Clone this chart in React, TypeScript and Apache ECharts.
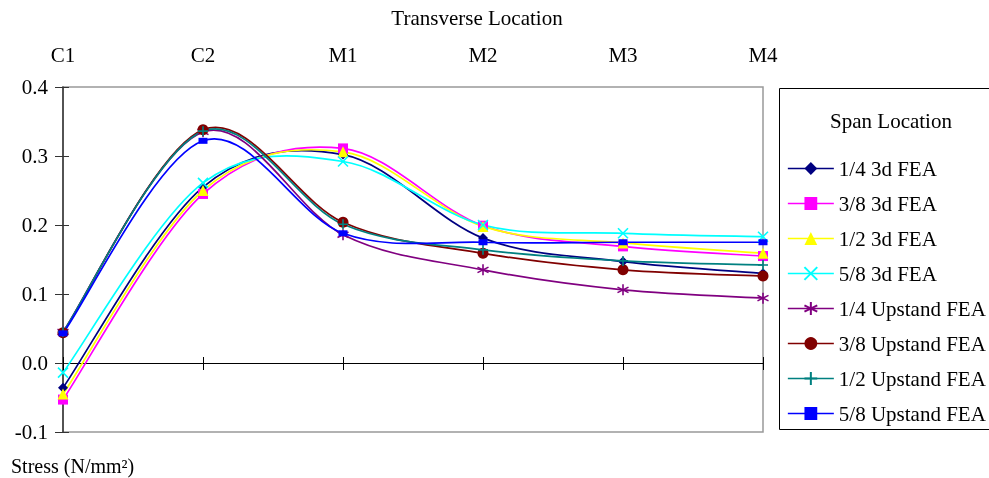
import React, { useEffect, useRef } from "react";
import * as echarts from "echarts";

const categories = ["C1", "C2", "M1", "M2", "M3", "M4"];
const yTicks = [-0.1, 0.0, 0.1, 0.2, 0.3, 0.4];

const quarter3d = [-0.036, 0.255, 0.302, 0.181, 0.147, 0.13];
const threeEighth3d = [-0.053, 0.245, 0.311, 0.199, 0.169, 0.155];
const half3d = [-0.045, 0.25, 0.306, 0.198, 0.174, 0.159];
const fiveEighth3d = [-0.014, 0.261, 0.292, 0.2, 0.188, 0.183];
const quarterUp = [0.045, 0.335, 0.186, 0.135, 0.106, 0.094];
const threeEighthUp = [0.044, 0.338, 0.204, 0.159, 0.135, 0.126];
const halfUp = [0.045, 0.336, 0.201, 0.164, 0.148, 0.142];
const fiveEighthUp = [0.043, 0.322, 0.188, 0.175, 0.175, 0.175];

const seriesNames = [
  "1/4 3d FEA",
  "3/8 3d FEA",
  "1/2 3d FEA",
  "5/8 3d FEA",
  "1/4 Upstand FEA",
  "3/8 Upstand FEA",
  "1/2 Upstand FEA",
  "5/8 Upstand FEA",
];
const seriesData = [quarter3d, threeEighth3d, half3d, fiveEighth3d, quarterUp, threeEighthUp, halfUp, fiveEighthUp];
const seriesColors = ["#000080", "#FF00FF", "#FFFF00", "#00FFFF", "#800080", "#800000", "#008080", "#0000FF"];

const FONT = '"Liberation Serif", "Times New Roman", serif';
const FS = 21;
const LW = 1.7;

const X_PATH = "path://M0,0L10,10M0,10L10,0";
const STAR_PATH = "path://M5,0L5,10M0.7,2.5L9.3,7.5M0.7,7.5L9.3,2.5";
const PLUS_PATH = "path://M5,0L5,10M0,5L10,5";

const symbols: any[] = [
  { symbol: "diamond", size: 10, stroke: false },
  { symbol: "rect", size: 10, stroke: false },
  { symbol: "triangle", size: 11, stroke: false },
  { symbol: X_PATH, size: 10, stroke: true },
  { symbol: STAR_PATH, size: 11, stroke: true },
  { symbol: "circle", size: 11, stroke: false },
  { symbol: PLUS_PATH, size: 10, stroke: true },
  { symbol: "rect", size: [9, 6], stroke: false },
];

function smoothPath(pts: number[][]) {
  let d = `M${pts[0][0]},${pts[0][1]}`;
  for (let k = 0; k < pts.length - 1; k++) {
    const p0 = pts[k - 1] || pts[k];
    const p1 = pts[k];
    const p2 = pts[k + 1];
    const p3 = pts[k + 2] || pts[k + 1];
    const c1x = p1[0] + (p2[0] - p0[0]) / 6;
    const c1y = p1[1] + (p2[1] - p0[1]) / 6;
    const c2x = p2[0] - (p3[0] - p1[0]) / 6;
    const c2y = p2[1] - (p3[1] - p1[1]) / 6;
    d += ` C${c1x},${c1y} ${c2x},${c2y} ${p2[0]},${p2[1]}`;
  }
  return d;
}

export default function App() {
  const ref = useRef<HTMLDivElement>(null);
  useEffect(() => {
    if (!ref.current) return;
    const chart = echarts.init(ref.current, undefined, { renderer: "svg" });

    const lineSeries = seriesNames.map((_, i) => ({
      type: "custom",
      coordinateSystem: "cartesian2d",
      xAxisIndex: 0,
      yAxisIndex: 0,
      data: [[0, seriesData[i][0]]],
      encode: { x: 0, y: 1 },
      silent: true,
      z: 2 + i * 0.01,
      renderItem: (params: any, api: any) => {
        const pts = seriesData[i].map((v, k) => api.coord([k, v]));
        return {
          type: "path",
          shape: { pathData: smoothPath(pts) },
          style: { fill: "none", stroke: seriesColors[i], lineWidth: LW },
        };
      },
    }));

    const markerSeries = seriesNames.map((name, i) => ({
      name,
      type: "line",
      xAxisIndex: 0,
      yAxisIndex: 0,
      data: seriesData[i],
      symbol: symbols[i].symbol,
      symbolSize: symbols[i].size,
      showAllSymbol: true,
      lineStyle: { color: seriesColors[i], width: LW, opacity: 0 },
      itemStyle: {
        color: seriesColors[i],
        borderColor: seriesColors[i],
        borderWidth: symbols[i].stroke ? 1.6 : 0,
        opacity: 1,
      },
      emphasis: { disabled: true },
      z: 4 + i * 0.01,
    }));

    chart.setOption({
      animation: false,
      textStyle: { fontFamily: FONT },
      grid: {
        left: 63,
        right: 226,
        top: 87,
        bottom: 46,
        show: true,
        borderColor: "#999999",
        borderWidth: 1.5,
        backgroundColor: "#ffffff",
      },
      xAxis: [
        {
          type: "category",
          data: categories,
          boundaryGap: false,
          position: "bottom",
          axisLine: { onZero: true, lineStyle: { color: "#000", width: 1 } },
          axisTick: { show: true, inside: false, length: 7, lineStyle: { color: "#000" } },
          axisLabel: { show: false },
          splitLine: { show: false },
        },
        {
          type: "category",
          data: categories,
          boundaryGap: false,
          position: "bottom",
          axisLine: { show: false, onZero: true },
          axisTick: { show: true, inside: true, length: 6, lineStyle: { color: "#000" } },
          axisLabel: { show: false },
          splitLine: { show: false },
        },
        {
          type: "category",
          data: categories,
          boundaryGap: false,
          position: "top",
          axisLine: { show: false, onZero: false },
          axisTick: { show: false },
          axisLabel: { show: true, margin: 22, color: "#000", fontSize: FS, fontFamily: FONT },
          splitLine: { show: false },
        },
      ],
      yAxis: [
        {
          type: "value",
          min: -0.1,
          max: 0.4,
          interval: 0.1,
          axisLine: { show: true, onZero: false, lineStyle: { color: "#333", width: 1.5 } },
          axisTick: { show: true, inside: false, length: 8, lineStyle: { color: "#333" } },
          axisLabel: {
            margin: 15,
            color: "#000",
            fontSize: FS,
            fontFamily: FONT,
            formatter: (v: number) => {
              const t = yTicks.find((k) => Math.abs(k - v) < 1e-9);
              return (t !== undefined ? t : v).toFixed(1);
            },
          },
          splitLine: { show: false },
        },
        {
          type: "value",
          min: -0.1,
          max: 0.4,
          interval: 0.1,
          position: "left",
          axisLine: { show: false, onZero: false },
          axisTick: { show: true, inside: true, length: 6, lineStyle: { color: "#333" } },
          axisLabel: { show: false },
          splitLine: { show: false },
        },
      ],
      legend: {
        show: true,
        orient: "vertical",
        left: 782,
        top: 153,
        itemWidth: 46,
        itemHeight: 16,
        itemGap: 14,
        data: seriesNames.map((n, i) => ({
          name: n,
          lineStyle: { color: seriesColors[i], width: LW, opacity: 1 },
        })),
        textStyle: { fontSize: FS, fontFamily: FONT, color: "#000", lineHeight: 21 },
        selectedMode: false,
      },
      graphic: [
        {
          type: "rect",
          shape: { x: 779.5, y: 88.5, width: 230, height: 341 },
          style: { fill: "none", stroke: "#000", lineWidth: 1 },
          z: 1,
        },
        {
          type: "text",
          x: 891,
          y: 121,
          style: {
            text: "Span Location",
            fontSize: FS,
            fontFamily: FONT,
            fill: "#000",
            textAlign: "center",
            textVerticalAlign: "middle",
          },
        },
        {
          type: "text",
          x: 477,
          y: 18,
          style: {
            text: "Transverse Location",
            fontSize: FS,
            fontFamily: FONT,
            fill: "#000",
            textAlign: "center",
            textVerticalAlign: "middle",
          },
        },
        {
          type: "text",
          x: 11,
          y: 466,
          style: {
            text: "Stress (N/mm²)",
            fontSize: 20,
            fontFamily: FONT,
            fill: "#000",
            textAlign: "left",
            textVerticalAlign: "middle",
          },
        },
      ],
      series: [...lineSeries, ...markerSeries],
    });
    return () => chart.dispose();
  }, []);
  return (
    <div
      ref={ref}
      style={{ position: "fixed", left: 0, top: 0, width: 989, height: 478, overflow: "hidden" }}
    />
  );
}
